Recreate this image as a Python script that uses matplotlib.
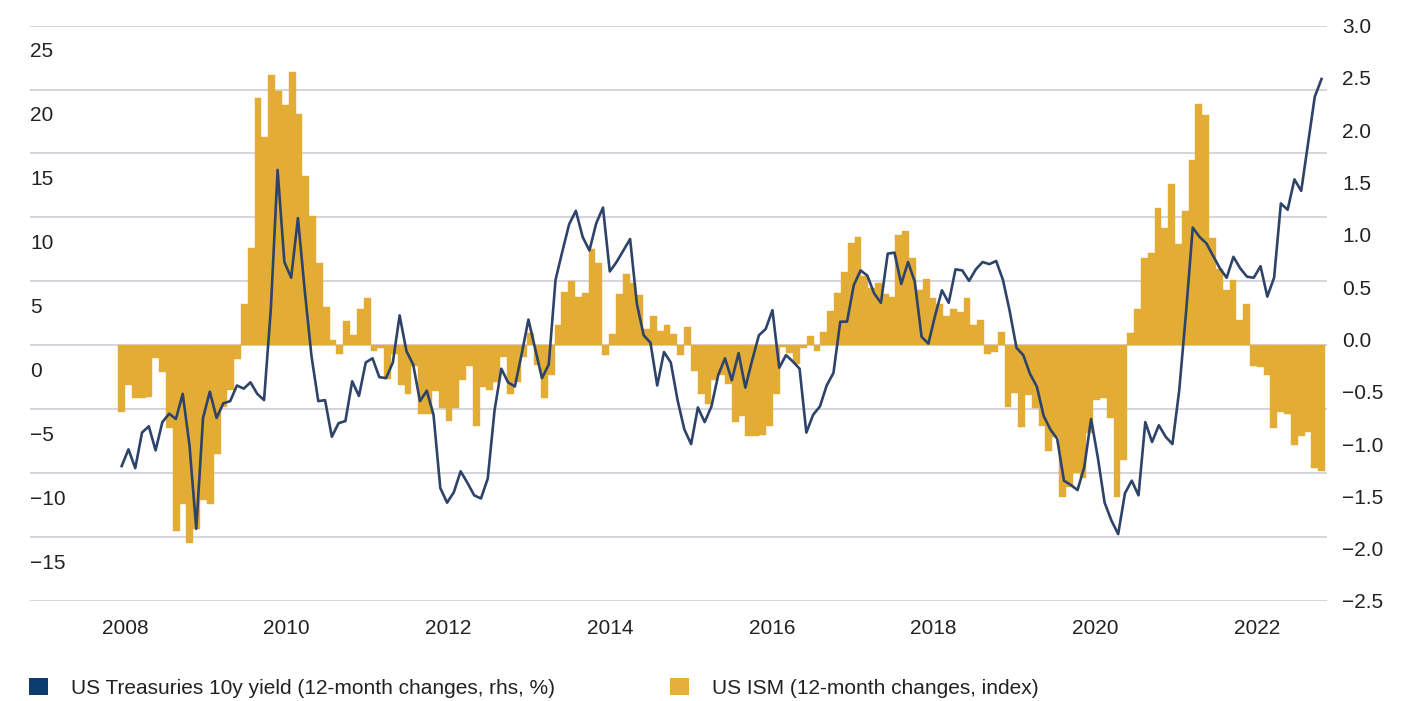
import numpy as np
import matplotlib
matplotlib.use("Agg")
import matplotlib.pyplot as plt
from matplotlib.patches import Patch

plt.rcParams['font.family'] = ['Liberation Sans', 'DejaVu Sans']

# monthly data, Jan 2008 onwards
ism_change = [
    -5.2, -3.1, -4.1, -4.1, -4.05, -1.0, -2.1, -6.5, -14.5, -12.4, -15.5, -14.4,
    -12.1, -12.4, -8.5, -4.8, -3.5, -1.1, 3.2, 7.6, 19.3, 16.3, 21.1, 19.9,
    18.8, 21.4, 18.1, 13.2, 10.1, 6.4,
    3.0, 0.44, -0.65, 1.9, 0.8, 2.8, 3.7, -0.44, -0.2, -2.6, -0.65, -3.1,
    -3.8, -1.6, -5.4, -5.4, -3.6, -4.9, -5.9, -4.9, -2.7, -1.6, -6.3, -3.3,
    -3.5, -2.9, -0.9, -3.8, -2.9,
    -0.9, 0.94, -1.56, -4.1, -2.35, 1.56, 4.2, 5.0, 3.8, 4.1, 7.5, 6.4,
    -0.8, 0.85, 4.0, 5.6, 4.9, 3.9, 1.3, 2.3, 1.1, 1.6, 0.85, -0.74,
    1.4, -2.0, -3.8, -4.6, -2.7,
    -2.35, -3.0, -6.0, -5.5, -7.1, -7.1, -7.0, -6.3, -3.8, -0.1, -0.6, -1.5,
    -0.2, 0.7, -0.45, 1.0, 2.7, 4.1, 5.7, 8.0, 8.5, 5.4, 4.5, 4.9,
    4.0, 3.8, 8.6, 8.9, 6.8, 4.3,
    5.2, 3.7, 3.2, 2.3, 2.8, 2.6, 3.7, 1.56, 2.0, -0.65, -0.5, 1.06,
    -4.8, -3.7, -6.4, -3.9, -4.9, -6.3, -8.3, -7.2, -11.9, -11.1, -10.0, -10.4,
    -6.9, -4.3, -4.1, -5.7, -11.9,
    -9.0, 0.94, 2.85, 6.85, 7.2, 10.7, 9.2, 12.6, 7.9, 10.5, 14.5, 18.9,
    18.0, 8.4, 6.0, 4.3, 5.1, 2.0, 3.2, -1.6, -1.7, -2.3, -6.5, -5.2,
    -5.4, -7.8, -7.1, -6.8, -9.6, -9.8,
]

ust10y_change = [
    -1.21, -1.05, -1.23, -0.89, -0.83, -1.06, -0.79, -0.71, -0.76, -0.52, -1.01, -1.81,
    -0.75, -0.50, -0.75, -0.61, -0.59, -0.44, -0.47, -0.41, -0.52, -0.58, 0.29, 1.62,
    0.74, 0.59, 1.16, 0.47, -0.16, -0.59,
    -0.58, -0.93, -0.80, -0.78, -0.40, -0.54, -0.22, -0.18, -0.36, -0.37, -0.22, 0.23,
    -0.11, -0.24, -0.59, -0.49, -0.72, -1.42, -1.56, -1.46, -1.26, -1.37, -1.49, -1.52,
    -1.33, -0.68, -0.28, -0.41, -0.45,
    -0.14, 0.19, -0.09, -0.37, -0.24, 0.57, 0.84, 1.10, 1.23, 0.98, 0.85, 1.11,
    1.26, 0.65, 0.74, 0.85, 0.96, 0.34, 0.04, -0.03, -0.44, -0.12, -0.22, -0.58,
    -0.86, -1.00, -0.65, -0.79, -0.64, -0.34,
    -0.18, -0.39, -0.13, -0.46, -0.20, 0.04, 0.10, 0.28, -0.27, -0.15, -0.21, -0.28,
    -0.89, -0.72, -0.64, -0.44, -0.32, 0.17, 0.17, 0.52, 0.66, 0.61, 0.44, 0.35,
    0.82, 0.83, 0.53, 0.74, 0.55,
    0.025, -0.04, 0.23, 0.47, 0.35, 0.67, 0.66, 0.56, 0.67, 0.74, 0.72, 0.75,
    0.57, 0.27, -0.08, -0.15, -0.33, -0.45, -0.73, -0.86, -0.95, -1.35, -1.39, -1.44,
    -1.22, -0.76, -1.13, -1.56, -1.73, -1.86,
    -1.47, -1.35, -1.49, -0.79, -0.98, -0.82, -0.93, -1.00, -0.49, 0.25, 1.07, 0.98,
    0.92, 0.80, 0.68, 0.59, 0.79, 0.68, 0.60, 0.59, 0.70, 0.41, 0.59, 1.30,
    1.24, 1.53, 1.42, 1.87, 2.32, 2.49,
]

years = ['2008', '2010', '2012', '2014', '2016', '2018', '2020', '2022']
left_ticks = [25, 20, 15, 10, 5, 0, -5, -10, -15]
right_ticks = [3.0, 2.5, 2.0, 1.5, 1.0, 0.5, 0.0, -0.5, -1.0, -1.5, -2.0, -2.5]
labels = ['US Treasuries 10y yield (12-month changes, rhs, %)',
          'US ISM (12-month changes, index)']

GOLD = '#E3AD35'
NAVY = '#2E4369'
TXT = '#222222'
GRID = '#CDCDD5'

W, H = 1424, 701
fig = plt.figure(figsize=(W / 100, H / 100), dpi=100)
ax = fig.add_axes([30 / W, 1 - 601 / H, (1327 - 30) / W, (601 - 25.6) / H])

x = np.arange(len(ism_change))
ax.bar(x, ism_change, width=1.0, color=GOLD, edgecolor=GOLD, linewidth=0.3, zorder=2)
ax.set_xlim(-13.45, 176.8)
ax.set_ylim(-20, 25)

# gridlines on the major ticks, labels (sitting a bit below) on minor ticks
ax.set_yticks(np.arange(-20, 26, 5))
ax.set_yticklabels([])
ax.yaxis.grid(True, color=GRID, linewidth=1.2)
ax.set_axisbelow(True)
ax.set_yticks(np.array(left_ticks) - 1.9, minor=True)
ax.set_yticklabels([str(v).replace('-', '\u2212') for v in left_ticks], minor=True)
ax.tick_params(axis='y', which='both', length=0)
ax.tick_params(axis='y', which='minor', pad=0, labelsize=15, labelcolor=TXT)
plt.setp(ax.yaxis.get_minorticklabels(), ha='left')

ax.set_xticks(0.48 + 23.72 * np.arange(len(years)))
ax.set_xticklabels(years)
ax.tick_params(axis='x', length=0, pad=13, labelsize=15, labelcolor=TXT)
for s in ax.spines.values():
    s.set_visible(False)

ax2 = ax.twinx()
# the yield series has one more point, spread over the same span as the bars
xl = np.linspace(0, len(ism_change) - 1, len(ust10y_change))
ax2.plot(xl, ust10y_change, color=NAVY, linewidth=1.9, zorder=3)
ax2.set_ylim(-2.5, 3.0)
ax2.set_yticks(right_ticks)
ax2.set_yticklabels([f'{v:.1f}'.replace('-', '\u2212') for v in right_ticks])
ax2.tick_params(axis='y', length=0, pad=10.8, labelsize=15, labelcolor=TXT)
for s in ax2.spines.values():
    s.set_visible(False)

handles = [Patch(facecolor='#0D3C6E'), Patch(facecolor='#E8AE3A')]
fig.legend(handles, labels, loc='center left', bbox_to_anchor=(29 / W, 1 - 688 / H),
           ncol=2, frameon=False, fontsize=15, handlelength=0.9, handleheight=0.9,
           handletextpad=1.1, columnspacing=5.55, borderaxespad=0, borderpad=0,
           labelcolor=TXT)

fig.savefig('out.png', dpi=100)
